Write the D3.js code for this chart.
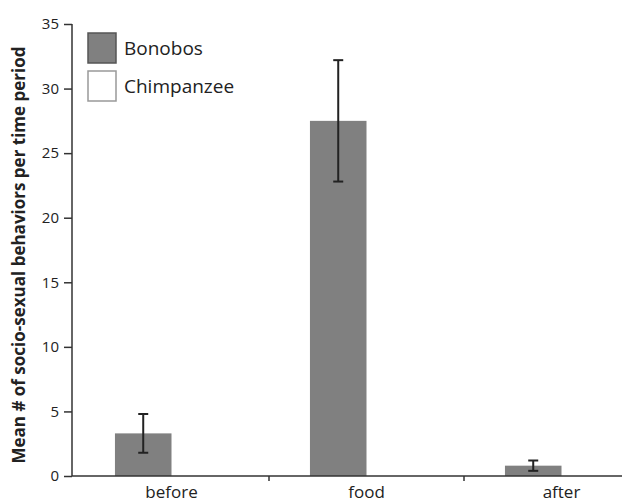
<!DOCTYPE html>
<html lang="en">
<head>
  <meta charset="UTF-8">
  <title>Socio-sexual behaviors</title>
  <script src="https://d3js.org/d3.v7.min.js"></script>
  <style>
    body { margin: 0; background: #fff; }
    text { font-family: "Open Sans", sans-serif; fill: #222; }
  </style>
</head>
<body>
<script>
  // Data
  const periods = ['before', 'food', 'after'];
  const species = ['Bonobos', 'Chimpanzee'];
  const bonoboMean = [3.3, 27.5, 0.8];
  const bonoboErr = [1.5, 4.7, 0.4];
  const chimpMean = [0, 0, 0];
  const chimpErr = [0, 0, 0];
  const yTicks = [0, 5, 10, 15, 20, 25, 30, 35];

  const width = 622, height = 503;
  const axisX = 72, baseY = 476, topY = 24;

  const svg = d3.select('body').append('svg')
    .attr('width', width)
    .attr('height', height);

  const x0 = d3.scaleBand()
    .domain(periods)
    .range([74, 659])
    .paddingInner(0.42)
    .paddingOuter(0.21);

  const x1 = d3.scaleBand()
    .domain(species)
    .range([0, x0.bandwidth()]);

  const y = d3.scaleLinear()
    .domain([0, 35])
    .range([baseY, topY]);

  const color = {Bonobos: '#808080', Chimpanzee: '#ffffff'};

  const rows = periods.map((p, i) => ({
    period: p,
    vals: [
      {sp: 'Bonobos', mean: bonoboMean[i], err: bonoboErr[i]},
      {sp: 'Chimpanzee', mean: chimpMean[i], err: chimpErr[i]}
    ]
  }));

  // Bars
  const groups = svg.selectAll('g.grp')
    .data(rows)
    .join('g')
    .attr('class', 'grp')
    .attr('transform', d => `translate(${x0(d.period)},0)`);

  groups.selectAll('rect')
    .data(d => d.vals)
    .join('rect')
    .attr('x', d => x1(d.sp))
    .attr('y', d => y(d.mean))
    .attr('width', x1.bandwidth())
    .attr('height', d => baseY - y(d.mean))
    .attr('fill', d => color[d.sp]);

  // Error bars (bonobos only have visible ones)
  const eb = groups.selectAll('g.err')
    .data(d => d.vals.filter(v => v.err > 0))
    .join('g')
    .attr('class', 'err')
    .attr('stroke', '#222')
    .attr('stroke-width', 2);

  eb.append('line')
    .attr('x1', d => x1(d.sp) + x1.bandwidth() / 2)
    .attr('x2', d => x1(d.sp) + x1.bandwidth() / 2)
    .attr('y1', d => y(d.mean + d.err))
    .attr('y2', d => y(d.mean - d.err));
  eb.append('line')
    .attr('x1', d => x1(d.sp) + x1.bandwidth() / 2 - 5)
    .attr('x2', d => x1(d.sp) + x1.bandwidth() / 2 + 5)
    .attr('y1', d => y(d.mean + d.err))
    .attr('y2', d => y(d.mean + d.err));
  eb.append('line')
    .attr('x1', d => x1(d.sp) + x1.bandwidth() / 2 - 5)
    .attr('x2', d => x1(d.sp) + x1.bandwidth() / 2 + 5)
    .attr('y1', d => y(d.mean - d.err))
    .attr('y2', d => y(d.mean - d.err));

  // Y axis
  const yAxis = svg.append('g')
    .attr('transform', `translate(${axisX},0)`)
    .call(d3.axisLeft(y).tickValues(yTicks).tickSize(8).tickPadding(5));
  yAxis.select('.domain').attr('stroke', '#333').attr('stroke-width', 1.5)
    .attr('d', `M0,${topY}V${baseY}`);
  yAxis.selectAll('.tick line').attr('stroke', '#333').attr('stroke-width', 1.5);
  yAxis.selectAll('.tick text').style('font-size', '15px').attr('fill', '#333');

  // X axis
  const step = x0.step();
  const bounds = periods.slice(1).map(p => x0(p) - x0.paddingInner() * step / 2);
  svg.append('line')
    .attr('x1', axisX).attr('x2', width)
    .attr('y1', baseY).attr('y2', baseY)
    .attr('stroke', '#333').attr('stroke-width', 1.5);
  svg.selectAll('line.xtick')
    .data(bounds)
    .join('line')
    .attr('class', 'xtick')
    .attr('x1', d => d).attr('x2', d => d)
    .attr('y1', baseY).attr('y2', baseY + 5)
    .attr('stroke', '#333').attr('stroke-width', 1.5);
  svg.selectAll('text.xlab')
    .data(periods)
    .join('text')
    .attr('class', 'xlab')
    .attr('x', d => x0(d) + x0.bandwidth() / 2)
    .attr('y', baseY + 22)
    .attr('text-anchor', 'middle')
    .style('font-size', '17px')
    .text(d => d);

  // Y title
  svg.append('text')
    .attr('transform', `translate(25,${(topY + baseY) / 2 + 5}) rotate(-90)`)
    .attr('text-anchor', 'middle')
    .style('font-size', '17px')
    .style('font-weight', 'bold')
    .text('Mean # of socio-sexual behaviors per time period');

  // Legend
  const legend = svg.append('g').attr('transform', 'translate(88,33)');
  species.forEach((s, i) => {
    legend.append('rect')
      .attr('x', 0).attr('y', i * 38)
      .attr('width', 28).attr('height', 30)
      .attr('fill', color[s])
      .attr('stroke', i === 0 ? '#555' : '#999')
      .attr('stroke-width', 1.5);
    legend.append('text')
      .attr('x', 36).attr('y', i * 38 + 22)
      .style('font-size', '19px')
      .text(s);
  });
</script>
</body>
</html>
